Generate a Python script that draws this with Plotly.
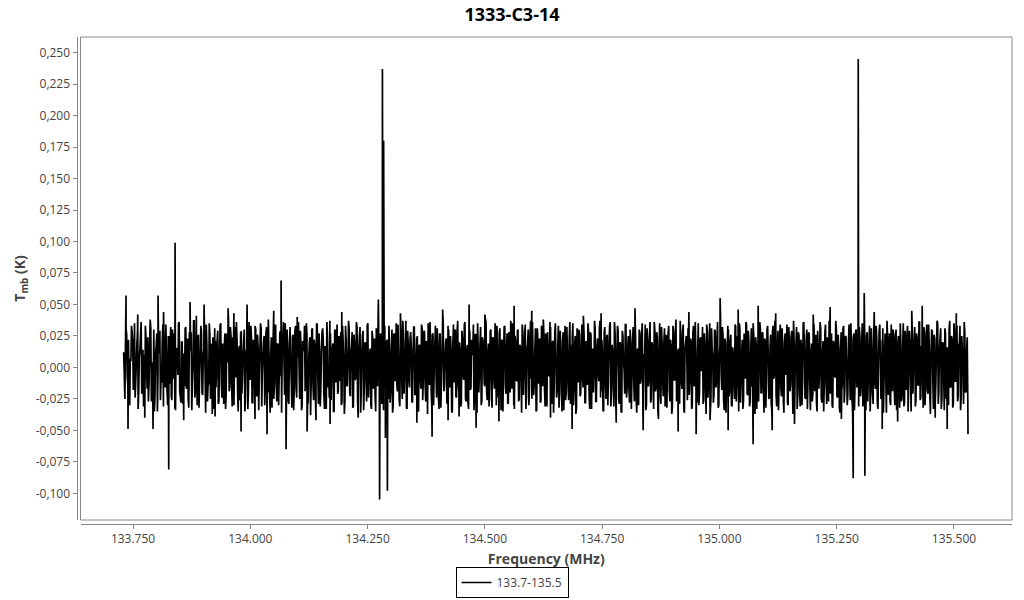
import numpy as np
import plotly.graph_objects as go

chart_title = "1333-C3-14"
series_name = "133.7-135.5"
x_title = "Frequency (MHz)"
y_title = "T<sub>mb</sub> (K)"

# channel grid end points (MHz)
freq_start_mhz = 133.730
freq_end_mhz = 135.5295

# baseline noise of the overlapped scans, mK
tmb_scan_a_mK = [
    12, -25, 31, -8, 22, -30, 5, 28, -18, 35, -12, 19, -33, 9, 26, -21, 14, -28, 33, -4,
    24, -15, 38, -27, 3, 30, -22, 17, -35, 11, 29, -9, 21, -31, 6, 34, -19, 25, -13, 32,
    -26, 8, 27, -34, 15, -6, 36, -23, 20, -29, 2, 31, -17, 23, -32, 13, 28, -11, 37, -24,
    16, -30, 26, -7, 33, -20, 10, 30, -36, 18, -14, 35, -25, 7, 24, -33, 21, -3, 29, -27,
    34, -12, 19, -29, 27, -22, 4, 37, -16, 25, -31, 12, 32, -8, 22, -35, 17, 28, -21, 9,
    30, -26, 14, -33, 36, -10, 23, -28, 6, 33, -19, 26, -34, 15, 31, -5, 20, -30, 27, -15,
    38, -23, 11, -32, 25, -13, 34, -27, 18, -7, 29, -36, 21, 3, 35, -20, 16, -29, 32, -11,
    24, -34, 28, -17, 8, 36, -25, 19, -30, 13, 33, -9, 26, -28, 20, -38, 30, -14, 22, -24,
    35, -6, 27, -31, 12, 31, -21, 17, -33, 24, -2, 37, -26, 15, -35, 29, -12, 34, -18, 10,
    28, -29, 21, -37, 33, -15, 6, 30, -23, 18, -32, 26, -10, 36, -27, 14, 32, -20, 25, -34,
    19, -8, 34, -24, 11, -30, 29, -17, 23, -35, 16, 38, -13, 27, -29, 7, 31, -22, 20, -3,
    33, -28, 15, -36, 26, -11, 35, -19, 9, -31, 30, -25, 22, -6, 37, -33, 18, -16, 28, -27,
    13, 32, -21, 24, -34, 17, -9, 34, -26, 29, -14, 21, -37, 10, 36, -18, 26, -30, 16, -4,
    31, -23, 27, -32, 8, 35, -15, 20, -28, 33, -7, 25, -35, 19, -12, 30, -24, 37, -20, 14,
    -29, 23, -10, 36, -27, 18, -33, 28, -16, 11, 34, -22, 26, -36, 15, -5, 32, -26, 21, -13,
    38, -19, 12, -31, 29, -24, 24, -8, 35, -30, 17, -14, 31, -34, 22, 4, 33, -21, 27, -28,
    10, 37, -17, 25, -33, 20, -11, 30, -25, 16, -36, 28, -3, 34, -23, 19, -30, 26, -9, 36,
    -22, 14, -35, 31, -13, 23, -27, 9, 38, -18, 27, -31, 13, -6, 32, -29, 21, -15, 35, -24,
    17, -32, 29, -10, 22, -34, 33, -20, 12, -26, 36, -7, 24, -30, 18, -37, 31, -12, 26, -21,
    34, -16, 20, -28, 7, 35, -23, 28, -33, 15, -4, 30, -27, 23, -11, 37, -19, 13, -35, 32,
    -25, 26, -8, 33, -31, 18, -14, 36, -22, 11, 29, -29, 19, -36, 25, -2, 34, -24, 16, -18,
    30, -33, 22, -12, 37, -26, 14, -30, 27, -9, 35, -21, 10, -34, 31, -15, 24, -28, 20, -6,
    36, -19, 28, -35, 13, -23, 32, -13, 21, -31, 26, 5, 33, -27, 17, -32, 29, -10, 38, -25,
    15, -29, 25, -17, 34, -36, 19, 8, 31, -22, 23, -33, 27, -14, 36, -20, 12, -30, 22, -3,
    32, -26, 18, -37, 28, -11, 35, -24, 14, -28, 30, -16, 24, -32, 9, 37, -18, 26, -34, 20,
    -7, 33, -23, 21, -30, 16, -13, 34, -27, 25, -35, 31, -8, 22, -26, 13, 36, -21, 29, -31,
    11, -15, 35, -28, 24, -33, 18, 2, 30, -20, 27, -36, 21, -12, 33, -25, 16, -29, 28, -9,
    37, -22, 13, -34, 26, -17, 31, -26, 20, -6, 34, -30, 23, -14, 29, -37, 19, 7, 32, -23,
    25, -31, 17, -10, 36, -24, 22, -33, 28, -15, 12, -27, 35, -19, 26, -35, 14, -5, 31, -28,
    21, -12, 34, -29, 10, 37, -21, 27, -32, 19, -8, 30, -24, 15, -36, 28, -13, 33, -18, 24,
    -30, 18, -4, 35, -26, 23, -34, 29, -16, 14, 32, -23, 20, -31, 36, -11, 25, -27, 17, -35,
    31, -20, 26, -13, 33, -29, 8, 34, -25, 22, -36, 16, -9, 37, -22, 27, -30, 12, 30, -17,
    24, -34, 19, -7, 35, -27, 15, -31, 29, -18, 33, -12, 21, -35, 28, 3, 32, -26, 23, -14,
    36, -24, 11, -32, 27, -16, 34, -21, 18, -37, 30, -10, 26, -28, 13, 35, -19, 24, -33, 20,
    -6, 31, -25, 16, -30, 37, -15, 22, -29, 28, -11, 33, -23, 19, -34, 25, -2, 36, -20, 12,
    -27,
]
tmb_scan_b_mK = [
    -5, 18, 26, -14, -29, 7, 33, 21, -11, -24, 3, 29, -19, 14, 36, -8, -31, 10, 24, -17,
    -27, 16, 31, 4, -21, -35, 12, 27, -3, 19, -26, -12, 34, 22, -16, 8, -30, 25, 13, -23,
    30, -9, -33, 15, 6, 35, -20, -28, 20, 11, -15, 32, -6, -25, 28, 17, -34, 2, 37, -18,
    -10, 23, -32, 9, 29, -22, 14, -4, 34, -27, -13, 26, 19, -37, 5, 31, -16, 21, -29, 12,
    35, -24, -7, 18, -33, 27, 10, -19, 32, -12, 24, -30, 1, 36, -21, 15, -26, 29, -9, 20,
    -35, 13, 28, -17, 6, 33, -28, 22, -11, 30, -23, 16, -5, 35, -31, 9, 25, -14, 32, -20,
    11, -36, 24, 4, -25, 31, -13, 19, -30, 27, -7, 14, 36, -22, -9, 30, -27, 18, 7, -32,
    26, -15, 33, -24, 12, -3, 29, -34, 21, 16, -19, 35, -28, 8, 24, -12, 31, -26, 17, -6,
    34, -29, 13, -18, 28, 23, -33, 10, 36, -16, -24, 27, -1, 19, -35, 30, 14, -21, 25, -11,
    -30, 33, 6, -26, 21, -14, 37, -20, 12, 28, -31, 17, -8, 32, -23, 25, -36, 11, 29, -17,
    20, -27, 35, -9, 15, -33, 24, 3, -22, 31, -15, 26, -29, 18, 9, -34, 33, -4, 22, -25,
    13, -19, 30, -31, 27, 8, -13, 34, -26, 19, -6, 37, -21, 14, -32, 29, -10, 23, 16, -28,
    32, -22, 5, 25, -35, 18, -17, 31, -8, 28, -27, 12, 35, -14, 21, -30, 27, -2, 33, -24,
    17, -33, 26, -11, 36, -19, 9, 23, -29, 30, -16, 15, -36, 34, 6, -23, 28, -13, 20, -31,
    29, -7, 34, -25, 14, -28, 31, -18, 22, 10, -34, 26, -12, 35, -20, 18, -30, 24, 7, -15,
    36, -26, 19, -4, 30, -32, 23, -17, 13, 33, -24, 27, -9, 21, -35, 32, -14, 16, -29, 28,
    -20, 12, 35, -30, 25, -10, 29, -27, 18, -3, 34, -22, 24, -33, 15, 30, -18, 37, -25, 9,
    -13, 31, -34, 22, 17, -28, 33, -15, 26, -31, 11, 28, -7, 36, -24, 20, -36, 27, 5, -19,
    33, -21, 14, -35, 28, 2, -26, 32, -12, 23, -29, 18, 35, -17, 25, -32, 9, 30, -23, 15,
    -8, 34, -28, 21, -14, 29, -33, 26, 11, -20, 37, -27, 16, -5, 31, -24, 22, -34, 28, -12,
    24, -30, 19, 36, -18, 13, -31, 27, -9, 33, -25, 20, -35, 29, 4, -21, 34, -16, 25, -28,
    18, -6, 32, -27, 23, -36, 15, 30, -13, 26, -22, 10, 34, -30, 21, -11, 36, -25, 17, -33,
    29, -16, 24, -3, 35, -29, 19, -23, 31, 8, -32, 27, -18, 22, -37, 33, -10, 26, -27, 14,
    -21, 37, -12, 28, -34, 16, 25, -26, 30, -8, 21, -31, 33, -15, 12, -28, 35, -20, 24, 1,
    -29, 27, -17, 34, -24, 20, -35, 31, 9, -22, 29, -13, 36, -30, 18, -6, 32, -26, 23, -36,
    15, 30, -19, 26, -31, 11, -25, 33, -14, 22, 35, -28, 13, -33, 27, -9, 34, -22, 20, -27,
    31, -12, 25, -37, 19, 6, -27, 36, -20, 28, -16, 23, -32, 30, 10, -24, 26, -35, 33, -7,
    21, -31, 29, -14, 34, -23, 16, -36, 27, 3, -29, 32, -19, 24, -11, 37, -26, 18, -33, 28,
    -16, 22, -30, 35, 13, -25, 30, -9, 26, -34, 19, -21, 33, 7, -28, 29, -17, 36, -24, 11,
    -35, 28, -13, 24, -27, 32, 15, -30, 21, -6, 37, -23, 26, -32, 14, -18, 31, -28, 25, 2,
    -22, 34, -26, 19, -36, 27, -11, 30, 17, -31, 25, -15, 35, -25, 20, -34, 28, -8, 33, -20,
    14, -29, 36, -17, 23, -33, 29, 5, -24, 31, -12, 27, -36, 22, 12, -27, 34, -19, 26, -30,
    30, -10, 25, -32, 18, -23, 35, -28, 16, 24, -35, 29, -4, 33, -21, 21, -31, 27, -14, 36,
    -26, 17, -7, 32, -30, 26, -18, 34, -22, 10, 29, -33, 23, -13, 37, -29, 15, 31, -25, 19,
    -34, 27, 8, -21, 30, -16, 25, -32, 35, -11, 22, -27, 18, 33, -24, 13, -29, 28, -19, 24,
]

# isolated spikes / lines (MHz, mK)
spike_freq_mhz = [
    133.7351, 133.7393, 133.7926, 133.8033, 133.8261, 133.8396, 133.8715, 133.9014,
    133.9526, 133.9803, 133.9931, 134.0357, 134.0656, 134.0762, 134.1210, 134.1700,
    134.2730, 134.2756, 134.2816, 134.2842, 134.2880, 134.2922, 134.3875, 134.4216,
    134.4664, 134.4813, 134.5623, 134.6860, 134.7478, 134.8374, 134.9120, 134.9504,
    135.0015, 135.0186, 135.0719, 135.0826, 135.1125, 135.2361, 135.2852, 135.2959,
    135.3087, 135.3100, 135.3470, 135.4323, 135.4856, 135.5300,
    # smaller excursions above / below the noise band
    133.7600, 133.7750, 133.8150, 133.8580, 133.8850, 133.9250, 133.9650, 134.0100,
    134.0500, 134.1000, 134.1400, 134.1950, 134.2300, 134.3200, 134.3550, 134.4100,
    134.4450, 134.5000, 134.5300, 134.6000, 134.6400, 134.7100, 134.7800, 134.8200,
    134.8700, 134.9350, 134.9800, 135.0400, 135.1200, 135.1600, 135.2000, 135.2600,
    135.3300, 135.3800, 135.4100, 135.4600, 135.5050,
]
spike_tmb_mK = [
    57, -49, -49, 57, -81, 99, 52, 50,
    47, -51, 50, -53, 69, -65, -51, -45,
    54, -105, 237, 180, -56, -98, -55, -42,
    50, -48, 49, -49, 43, -50, -51, -53,
    55, -50, -61, 49, -50, 48, -88, 245,
    59, -86, -49, 49, -49, -53,
    42, -40, 44, -42, 41, -39, 43, -41,
    45, 40, -42, 44, -40, 43, -44, 46,
    -39, 42, -43, 45, -40, 41, -44, 47,
    -41, 44, -42, 46, 43, -45, 42, -41,
    44, -43, 45, -40, 43,
]

y_tick_values = [-0.100, -0.075, -0.050, -0.025, 0.000, 0.025, 0.050, 0.075,
                 0.100, 0.125, 0.150, 0.175, 0.200, 0.225, 0.250]
y_tick_labels = ["-0,100", "-0,075", "-0,050", "-0,025", "0,000", "0,025", "0,050", "0,075",
                 "0,100", "0,125", "0,150", "0,175", "0,200", "0,225", "0,250"]

x_range = [133.638, 135.6237]
y_range = [-0.1212, 0.2624]

# ---- assemble the single series (scans interleaved by frequency) ----
half_ch = (freq_end_mhz - freq_start_mhz) / (len(tmb_scan_a_mK) - 1) / 2
freq_a = np.linspace(freq_start_mhz, freq_end_mhz, len(tmb_scan_a_mK))
freq_b = np.linspace(freq_start_mhz + half_ch, freq_end_mhz - half_ch, len(tmb_scan_b_mK))
freq = np.concatenate([freq_a, freq_b, np.array(spike_freq_mhz)])
tmb = np.concatenate([np.array(tmb_scan_a_mK, float), np.array(tmb_scan_b_mK, float),
                      np.array(spike_tmb_mK, float)]) / 1000.0
order = np.argsort(freq, kind="stable")
freq, tmb = freq[order], tmb[order]

# ---- layout geometry (pixels) ----
W, H = 1024, 600
ml, mr, mt, mb = 70, 12, 37, 2
pw, ph = W - ml - mr, H - mt - mb
paper_bottom = H - mb
x_dom0 = 10.5 / pw
y_dom0 = (paper_bottom - 520) / ph
axis_col = "#888888"
txt_col = "#444444"
font_family = "Open Sans, Noto Sans, sans-serif"

fig = go.Figure()
fig.add_trace(go.Scatter(
    x=freq, y=tmb, mode="lines", name=series_name,
    line=dict(color="#000000", width=1.7, simplify=False),
    showlegend=True,
))

fig.update_layout(
    width=W, height=H,
    margin=dict(l=ml, r=mr, t=mt, b=mb, pad=0),
    paper_bgcolor="white", plot_bgcolor="white",
    font=dict(family=font_family, size=12, color=txt_col),
    title=dict(text="<b>" + chart_title + "</b>", x=0.5, xref="container", xanchor="center",
               y=1 - 15 / H, yref="container", yanchor="middle",
               font=dict(size=18, color="#000000", family=font_family)),
    xaxis=dict(
        domain=[x_dom0, 1], range=x_range, anchor="free",
        position=(paper_bottom - 524) / ph,
        showgrid=False, zeroline=False,
        showline=True, linecolor=axis_col, linewidth=1,
        ticks="outside", ticklen=4, tickcolor=axis_col,
        tick0=133.75, dtick=0.25, tickformat=".3f",
        tickfont=dict(size=12, color=txt_col),
        title=dict(text="<b>" + x_title + "</b>", standoff=7,
                   font=dict(size=14, color=txt_col)),
    ),
    yaxis=dict(
        domain=[y_dom0, 1], range=y_range, anchor="free", position=6.5 / pw,
        showgrid=False, zeroline=False,
        showline=True, linecolor=axis_col, linewidth=1,
        ticks="outside", ticklen=4, tickcolor=axis_col,
        tickvals=y_tick_values, ticktext=y_tick_labels,
        tickfont=dict(size=12, color=txt_col),
        title=dict(text="<b>" + y_title + "</b>", standoff=5,
                   font=dict(size=14, color=txt_col)),
    ),
    legend=dict(
        orientation="h", x=(512 - ml) / pw, xanchor="center",
        y=0.0, yanchor="bottom",
        bordercolor="#000000", borderwidth=1, bgcolor="white",
        font=dict(size=12, color=txt_col),
        itemwidth=30,
    ),
    shapes=[dict(type="rect", xref="paper", yref="paper",
                 x0=x_dom0, x1=1, y0=y_dom0, y1=1,
                 line=dict(color=axis_col, width=1), fillcolor="rgba(0,0,0,0)",
                 layer="above")],
)

fig.write_html("out.html", include_plotlyjs=True, full_html=True,
               config={"displayModeBar": False},
               post_script="document.body.style.margin='0';document.body.style.overflow='hidden';")
